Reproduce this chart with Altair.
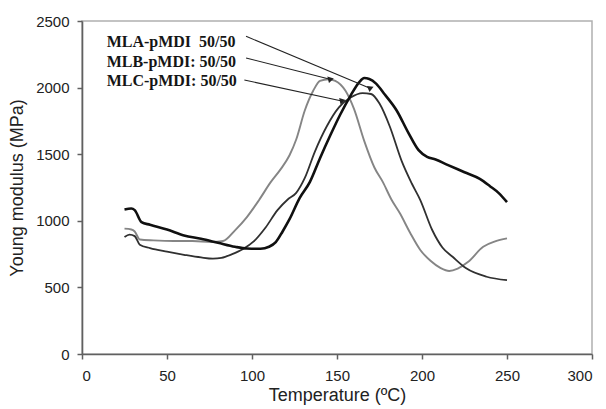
import math
import altair as alt
import pandas as pd

# ---- data ----
mla_x = [25, 29, 31, 35, 40, 50, 60, 70, 80, 90, 97, 105, 110, 114, 118, 122, 128, 134, 140, 146, 152, 158, 163, 166, 169, 173, 178, 185, 192, 198, 203, 208, 215, 225, 234, 240, 245, 250]
mla_y = [1085, 1092, 1080, 990, 970, 935, 890, 865, 835, 805, 792, 790, 805, 840, 920, 1010, 1170, 1290, 1470, 1640, 1800, 1940, 2040, 2072, 2065, 2030, 1950, 1830, 1660, 1530, 1480, 1460, 1420, 1365, 1315, 1260, 1210, 1140]

mlc_x = [25, 28, 31, 34, 40, 50, 60, 70, 77, 82, 88, 95, 101, 108, 115, 121, 126, 131, 137, 144, 151, 158, 165, 170, 175, 181, 188, 194, 199, 206, 212, 218, 226, 238, 250]
mlc_y = [878, 896, 885, 820, 795, 768, 745, 725, 716, 722, 748, 790, 845, 950, 1080, 1160, 1210, 1320, 1520, 1710, 1850, 1925, 1958, 1952, 1880, 1710, 1450, 1280, 1156, 931, 800, 730, 643, 580, 554]

mlb_x = [25, 29, 31, 34, 42, 54, 65, 76, 83, 90, 97, 104, 111, 117, 122, 126, 131, 136, 140, 145, 149, 155, 160, 166, 172, 177, 182, 187, 193, 199, 205, 211, 216, 221, 227, 236, 243, 250]
mlb_y = [941, 935, 920, 860, 853, 848, 848, 841, 848, 928, 1028, 1153, 1290, 1390, 1490, 1610, 1826, 1976, 2051, 2063, 2051, 1976, 1840, 1600, 1400, 1290, 1160, 1056, 910, 781, 700, 645, 623, 641, 690, 805, 845, 868]

labels = ["MLA-pMDI\u00a0 50/50", "MLB-pMDI: 50/50", "MLC-pMDI: 50/50"]
label_x = [14.5, 14.5, 14.5]
label_y = [2345, 2194, 2050]
arrow_x1 = [96.5, 96.5, 95.5]
arrow_y1 = [2385, 2222, 2057]
arrow_x2 = [169.4, 145.9, 152.8]
arrow_y2 = [1995, 2062, 1900]

x_ticks = [0, 50, 100, 150, 200, 250, 300]
y_ticks = [0, 500, 1000, 1500, 2000, 2500]

W, H = 510, 333
XMAX, YMAX = 300, 2500

def series(xs, ys, name):
    return pd.DataFrame({"t": xs, "m": ys, "s": name, "i": range(len(xs))})

xs = alt.Scale(domain=[0, XMAX], nice=False)
ys = alt.Scale(domain=[0, YMAX], nice=False)

xenc = alt.X("t:Q", scale=xs, title="Temperature (ºC)",
             axis=alt.Axis(values=x_ticks, format="d"))
yenc = alt.Y("m:Q", scale=ys, title="Young modulus (MPa)",
             axis=alt.Axis(values=y_ticks, format="d"))

def line(df, color, width):
    return alt.Chart(df).mark_line(color=color, strokeWidth=width, interpolate="monotone").encode(
        x=xenc, y=yenc, order="i:Q")

l_b = line(series(mlb_x, mlb_y, "MLB"), "#858585", 1.9)
l_c = line(series(mlc_x, mlc_y, "MLC"), "#303030", 1.8)
l_a = line(series(mla_x, mla_y, "MLA"), "#101010", 2.6)

ann = pd.DataFrame({"label": labels, "lx": label_x, "ly": label_y,
                    "x1": arrow_x1, "y1": arrow_y1, "x2": arrow_x2, "y2": arrow_y2})
# arrowhead rotation in screen space
px, py = W / XMAX, H / YMAX
ann["ang"] = [(math.degrees(math.atan2((b - a) * px, (c - d) * py)) % 360)
              for a, b, c, d in zip(ann.x1, ann.x2, ann.y1, ann.y2)]

rules = alt.Chart(ann).mark_rule(color="#222222", strokeWidth=1.1).encode(
    x=alt.X("x1:Q", scale=xs), y=alt.Y("y1:Q", scale=ys),
    x2="x2:Q", y2="y2:Q")
heads = alt.Chart(ann).mark_point(shape="triangle", filled=True, color="#222222",
                                  size=45, opacity=1).encode(
    x=alt.X("x2:Q", scale=xs), y=alt.Y("y2:Q", scale=ys),
    angle=alt.Angle("ang:Q", scale=None))
texts = alt.Chart(ann).mark_text(align="left", baseline="middle", font="Liberation Serif",
                                 fontWeight="bold", fontSize=16, color="#151515").encode(
    x=alt.X("lx:Q", scale=xs), y=alt.Y("ly:Q", scale=ys), text="label:N")

chart = alt.layer(l_b, l_c, l_a, rules, heads, texts).properties(
    width=W, height=H,
    autosize=alt.AutoSizeParams(type="none"),
    padding={"left": 74, "top": 13, "right": 6, "bottom": 55},
).configure_view(
    stroke="#b0b0b0", strokeWidth=1.5
).configure_axis(
    grid=False, domainColor="#606060", domainWidth=1.6,
    tickColor="#606060", tickWidth=1.5, tickSize=5,
    labelFont="Liberation Sans", labelFontSize=15, labelColor="#222222",
    titleFont="Liberation Sans", titleFontWeight="normal", titleColor="#222222",
).configure_axisX(
    labelPadding=9, titleFontSize=18, titlePadding=3
).configure_axisY(
    labelPadding=8, titleFontSize=18, titlePadding=9
)

chart.save("out.html", embed_options={"renderer": "svg", "actions": False})
